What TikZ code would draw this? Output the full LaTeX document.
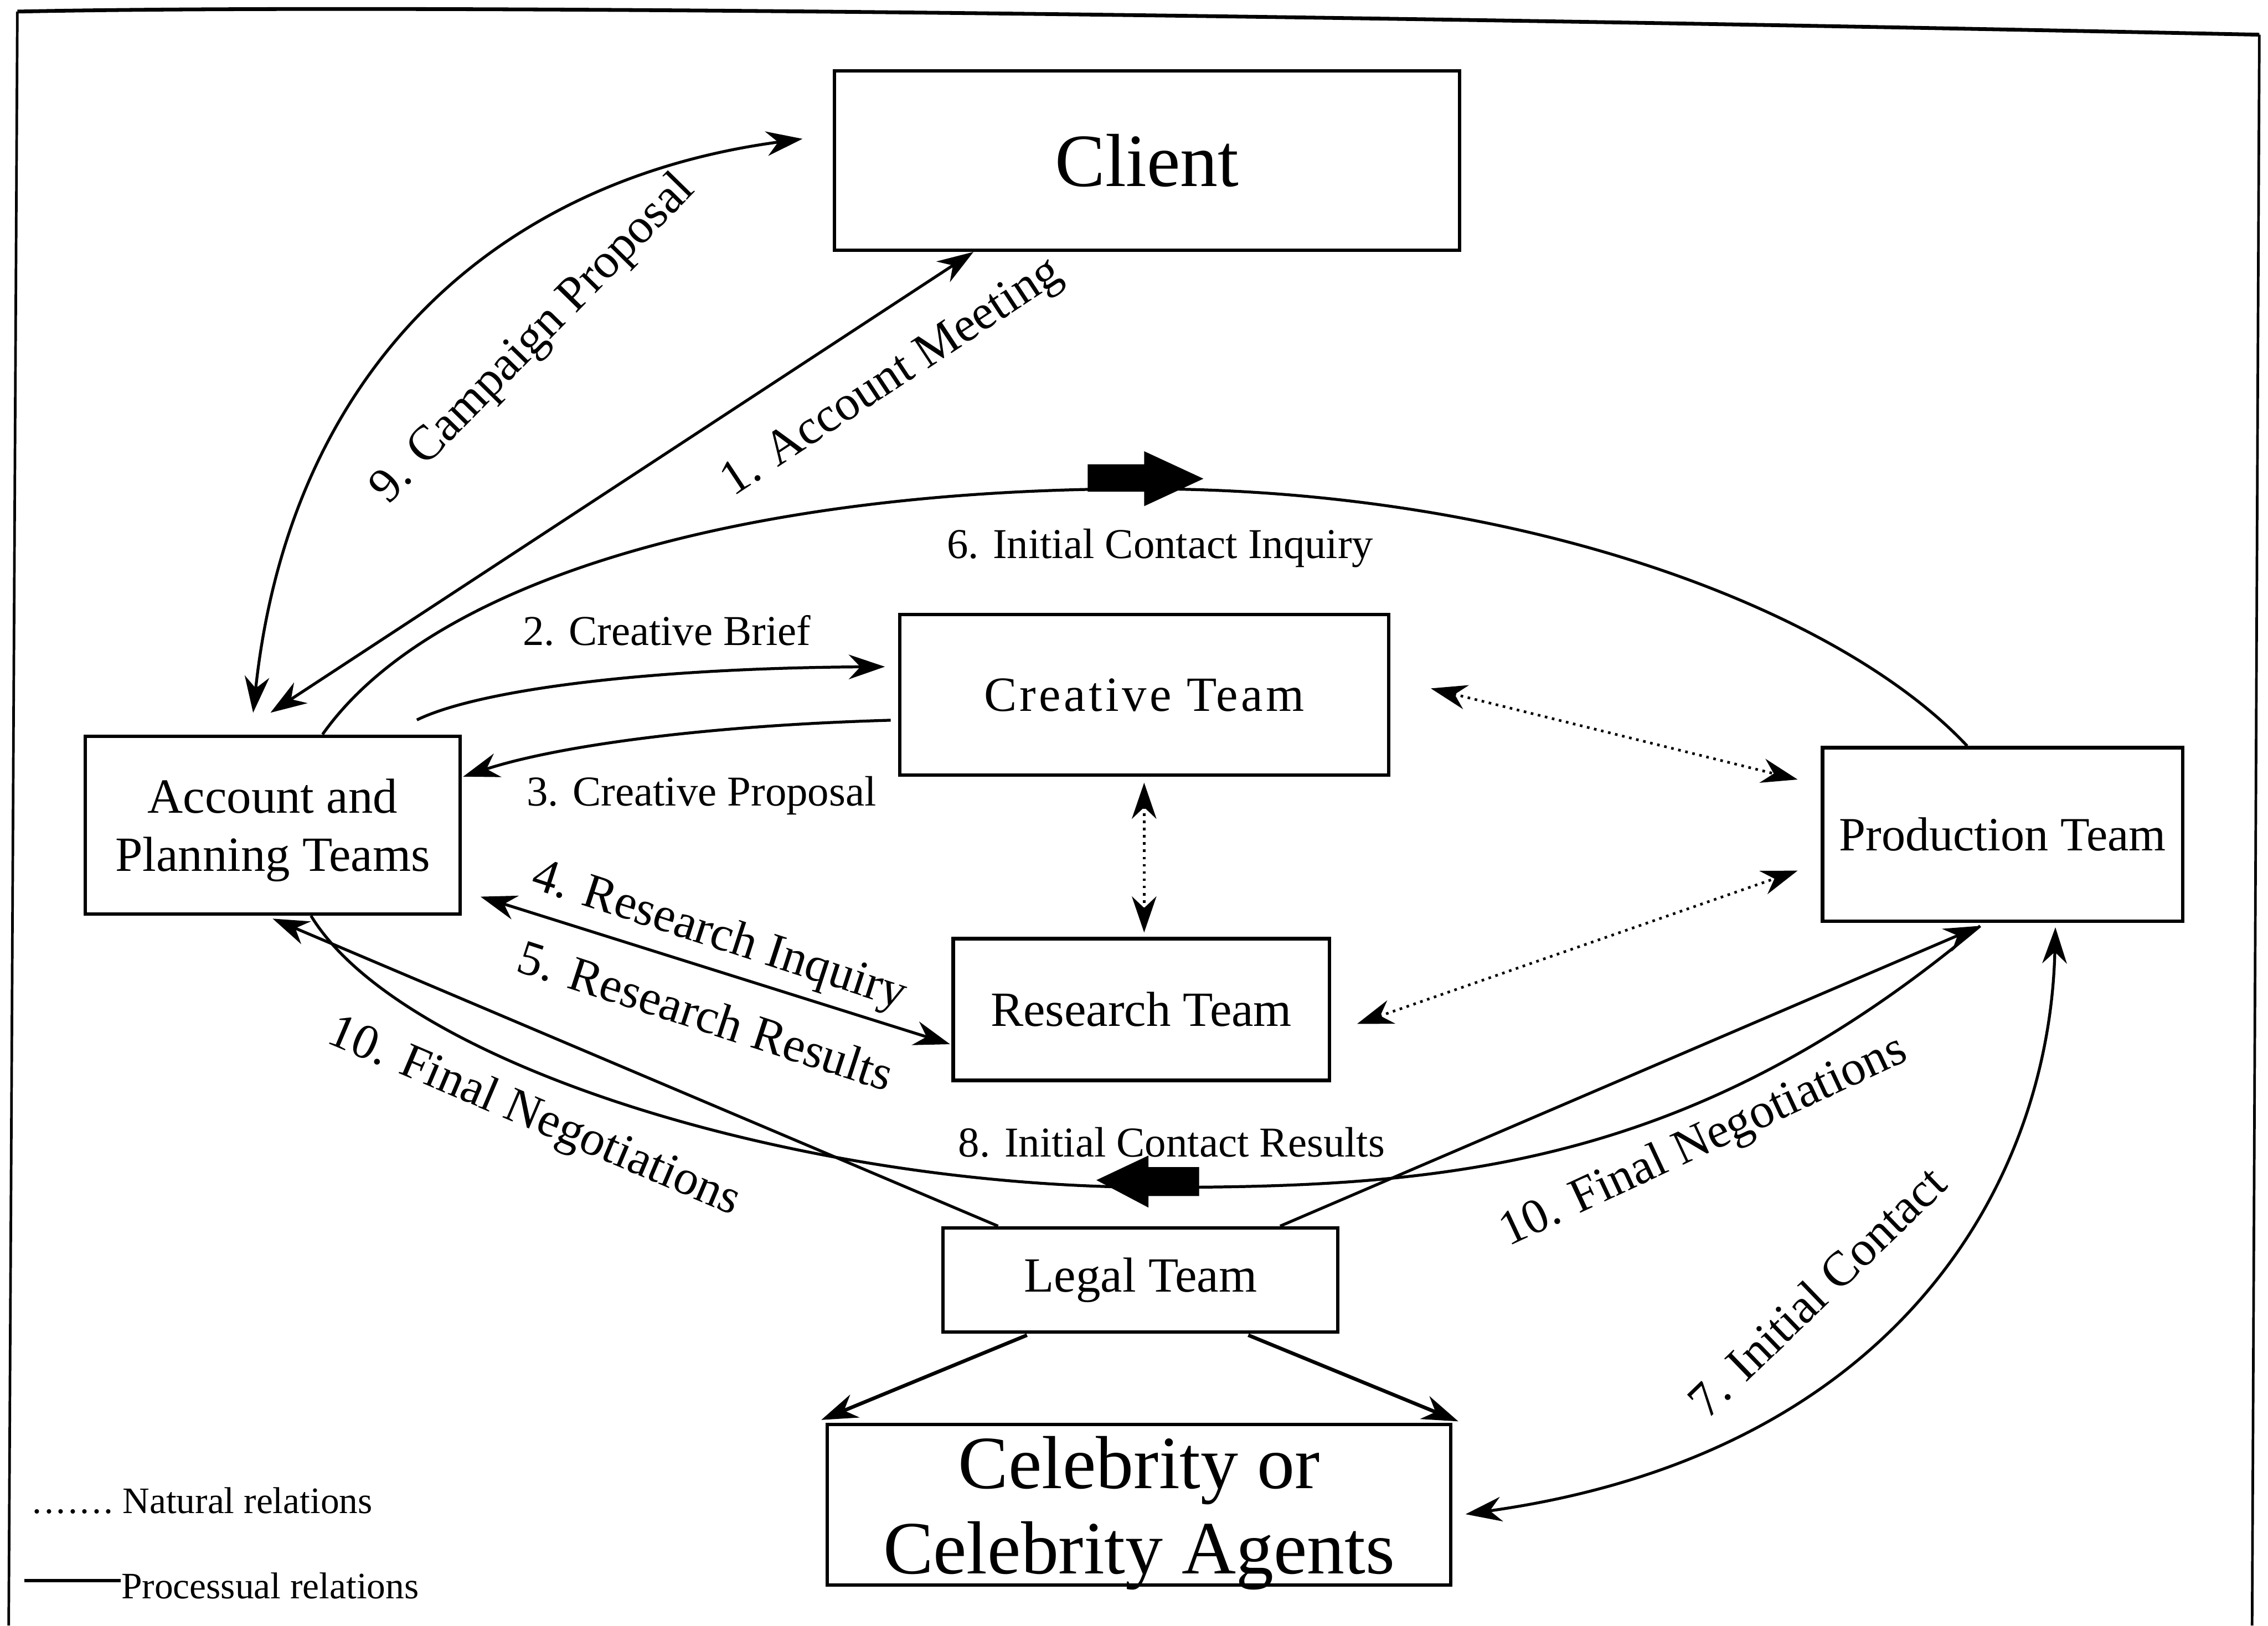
\documentclass[tikz,border=0pt]{standalone}
\usepackage{fontspec}
\setmainfont{Liberation Serif}
\usetikzlibrary{arrows.meta,calc}
\begin{document}
\begin{tikzpicture}[x=0.5pt,y=-0.5pt,
  >={Stealth[length=12.5pt,width=8.5pt,inset=4pt]},
  box/.style={draw,line width=1.2pt,inner sep=0pt,align=center,
    font=\fontsize{17}{20}\selectfont},
  bigbox/.style={box,font=\fontsize{26}{29.5}\selectfont},
  link/.style={line width=1pt},
  thick link/.style={line width=1.25pt},
  natural/.style={line width=0.9pt,dash pattern=on 0.9pt off 1.6pt},
  lbl/.style={font=\fontsize{17}{20}\selectfont,inner sep=0pt},
  slbl/.style={font=\fontsize{14.7}{17}\selectfont,inner sep=0pt},
  leg/.style={font=\fontsize{12.9}{15}\selectfont,inner sep=0pt},
  blockarrow/.style={fill=black}]
\useasboundingbox (0,0) rectangle (1568,1124);

% outer frame (open at the bottom)
\draw[line width=1.3pt,line join=round] (12,8) .. controls (300,2) and (1000,12) .. (1562,24);
\draw[line width=0.9pt] (6,1124) -- (12,8);
\draw[line width=0.9pt] (1562,24) -- (1557,1124);

% boxes
\node[bigbox,minimum width=216pt,minimum height=62pt] (cl) at (793,111) {Client};
\node[box,minimum width=129.5pt,minimum height=61.5pt] (acc) at (188.5,570.5)
  {Account and\\\raisebox{0pt}[\height][0pt]{Planning Teams}};
\node[box,minimum width=169pt,minimum height=55.5pt,
  font=\fontsize{17}{20}\selectfont\addfontfeatures{LetterSpace=6}] (cr) at (791,480.5) {Creative Team};
\node[box,minimum width=130pt,minimum height=49pt] (res) at (789,698) {Research Team};
\node[box,minimum width=124.5pt,minimum height=60pt,font=\fontsize{16.5}{20}\selectfont] (prod) at (1384.5,577) {Production Team};
\node[box,minimum width=136.5pt,minimum height=36pt] (legal) at (788.5,885) {Legal Team};
\node[bigbox,minimum width=215.5pt,minimum height=55.5pt] (cel) at (787.5,1040.5)
  {Celebrity or\\\raisebox{0pt}[\height][0pt]{Celebrity Agents}};

% 1. account meeting
\draw[link,<->] ([shift={(-1.5,-15)}]acc.north) -- ([shift={(-120,0)}]cl.south);
% 9. campaign proposal
\draw[link,<->] ([shift={(-13.5,-15)}]acc.north) .. controls +(25,-234) and +(-216,29) .. ([shift={(-21,-15)}]cl.west);
% 6. initial contact inquiry
\coordinate (top6) at (790,338);
\draw[link] ([shift={(34.5,0)}]acc.north) .. controls +(77,-109) and +(-270,0) .. (top6)
  .. controls +(260,0) and +(-90,-96) .. ([shift={(-24.5,0)}]prod.north);
\fill[blockarrow] (752,321) -- (791,321) -- (791,312) -- (832,331) -- (791,350) -- (791,340) -- (752,340) -- cycle;
% 2. creative brief / 3. creative proposal
\draw[link,->] ([shift={(-31,-10)}]acc.north east) .. controls +(43,-21) and +(-163,1) .. ([shift={(-9,-19.5)}]cr.west);
\draw[link,->] ([shift={(-5,17.5)}]cr.west) .. controls +(-137,4) and +(61,-20) .. ([shift={(1,-33.5)}]acc.east);
% 4./5. research
\draw[link,<->] ([shift={(13,49.5)}]acc.east) -- ([shift={(-1,24)}]res.west);
% natural relations
\draw[natural,<->] ([shift={(28,-4.5)}]cr.east) -- ([shift={(-16,-38)}]prod.west);
\draw[natural,<->] ([shift={(18,10)}]res.east) -- ([shift={(-16,25)}]prod.west);
\draw[natural,<->] ([shift={(0,4)}]cr.south) -- ([shift={(2,-3)}]res.north);
% 8. initial contact results
\coordinate (low8) at (800,821);
\draw[link] ([shift={(-15.5,2)}]prod.south) .. controls +(-199,167) and +(200,0) .. (low8)
  .. controls +(-250,0) and +(62,102) .. ([shift={(26.5,0)}]acc.south);
\fill[blockarrow] (758,816) -- (794,799) -- (794,807) -- (829,807) -- (829,827) -- (794,827) -- (794,835) -- cycle;
% 10. final negotiations
\draw[link,->] ([shift={(-98.5,0)}]legal.north) -- ([shift={(0,2)}]acc.south);
\draw[link,->] ([shift={(96.5,0)}]legal.north) -- ([shift={(-15.5,2)}]prod.south);
% 7. initial contact
\draw[link,<->] ([shift={(36.5,3)}]prod.south) .. controls +(-4,175) and +(300,-42) .. ([shift={(9,6.5)}]cel.east);
% legal team to celebrity
\draw[thick link,->] ([shift={(-78.5,1)}]legal.south) -- ([shift={(-3,-2)}]cel.north west);
\draw[thick link,->] ([shift={(74.5,1)}]legal.south) -- ([shift={(4,-1)}]cel.north east);

% labels
\node[lbl,rotate=33.4] (l1) at (617,262) {1. Account Meeting};
\node[lbl,rotate=45.6] (l9) at (369,235) {9. Campaign Proposal};
\node[slbl,anchor=base] (l6) at (802,386) {6. Initial Contact Inquiry};
\node[slbl,anchor=base] (l2) at (461,446) {2. Creative Brief};
\node[slbl,anchor=base] (l3) at (485,557) {3. Creative Proposal};
\node[lbl,rotate=-18] (l4) at (497,648) {4. Research Inquiry};
\node[lbl,rotate=-18] (l5) at (488,702) {5. Research Results};
\node[slbl,anchor=base] (l8) at (810,800) {8. Initial Contact Results};
\node[lbl,rotate=-23] (l10a) at (369,773) {10. Final Negotiations};
\node[lbl,rotate=25] (l10b) at (1178,790) {10. Final Negotiations};
\node[lbl,rotate=44] (l7) at (1256,893) {7. Initial Contact};

% legend
\node[leg,anchor=base west] (natleg) at (22,1046.5)
  {{\addfontfeatures{LetterSpace=7}.......}\ Natural relations};
\node[leg,anchor=base west] (procleg) at (83.5,1105.5) {Processual relations};
\draw[line width=1.2pt] (17,1093) -- (procleg.west |- 0,1093);
\end{tikzpicture}
\end{document}
